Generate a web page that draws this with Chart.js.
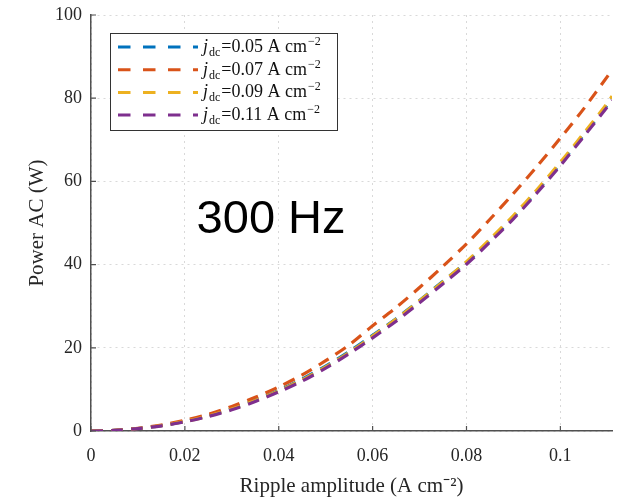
<!doctype html>
<html>
<head>
<meta charset="utf-8">
<title>power ac 300 Hz</title>
<script src="https://cdn.jsdelivr.net/npm/chart.js@4.4.1/dist/chart.umd.min.js"></script>
<style>
html, body { margin: 0; padding: 0; background: #fff; }
#wrap { width: 623px; height: 499px; }
</style>
</head>
<body>
<div id="wrap"><canvas id="chart" width="623" height="499"></canvas></div>
<script>
// ripple amplitude (A cm^-2)
var ripple = [0, 0.005, 0.01, 0.015, 0.02, 0.025, 0.03, 0.035, 0.04, 0.045, 0.05, 0.055,
              0.06, 0.065, 0.07, 0.075, 0.08, 0.085, 0.09, 0.095, 0.1, 0.105, 0.11, 0.111];

// power AC (W), one array per j_dc
var p005 = [0, 0.15, 0.6, 1.3, 2.3, 3.7, 5.4, 7.4, 9.8, 12.5, 15.6, 19.1,
            23.0, 27.0, 31.4, 36.0, 40.5, 45.8, 51.4, 57.6, 64.2, 71.2, 78.3, 80.0];
var p007 = [0, 0.16, 0.65, 1.45, 2.6, 4.0, 5.9, 8.1, 10.6, 13.5, 16.9, 20.7,
            25.3, 29.7, 34.5, 39.6, 45.0, 50.9, 57.1, 63.6, 70.4, 77.5, 85.2, 86.8];
var p009 = [0, 0.15, 0.6, 1.3, 2.3, 3.6, 5.3, 7.3, 9.6, 12.3, 15.4, 18.9,
            22.8, 26.9, 31.3, 35.9, 40.7, 46.1, 51.8, 58.0, 64.6, 71.6, 78.8, 80.5];
var p011 = [0, 0.14, 0.58, 1.25, 2.2, 3.5, 5.1, 7.1, 9.4, 12.0, 15.1, 18.6,
            22.4, 26.4, 30.8, 35.4, 40.1, 45.4, 51.0, 57.2, 63.8, 70.8, 77.9, 79.5];

var xTickLabels = ['0', '0.02', '0.04', '0.06', '0.08', '0.1'];
var jdcLabels = ['0.05', '0.07', '0.09', '0.11'];
var colors = ['#0072BD', '#D95319', '#EDB120', '#7E2F8E'];
var series = [p005, p007, p009, p011];

var annot = { x: 0.0225, y: 47.5, text: '300 Hz' };

var serif = '"Liberation Serif", "Times New Roman", serif';

function toPoints(ys) {
    return ripple.map(function (x, i) { return { x: x, y: ys[i] }; });
}

var datasets = series.map(function (ys, i) {
    return {
        label: jdcLabels[i],
        data: toPoints(ys),
        borderColor: colors[i],
        borderWidth: 3.2,
        borderDash: [12, 8],
        pointRadius: 0,
        tension: 0.3,
        fill: false,
        order: 3 - i
    };
});

// inward tick marks, like the matlab axes
var innerTicks = {
    id: 'innerTicks',
    afterDatasetsDraw: function (chart) {
        var ctx = chart.ctx, a = chart.chartArea;
        var xs = chart.scales.x, ys = chart.scales.y;
        ctx.save();
        ctx.strokeStyle = '#505050';
        ctx.lineWidth = 1.2;
        ctx.beginPath();
        xs.ticks.forEach(function (t) {
            var px = xs.getPixelForValue(t.value);
            ctx.moveTo(px, a.bottom);
            ctx.lineTo(px, a.bottom - 5);
        });
        ys.ticks.forEach(function (t) {
            var py = ys.getPixelForValue(t.value);
            ctx.moveTo(a.left, py);
            ctx.lineTo(a.left + 5, py);
        });
        ctx.stroke();
        ctx.restore();
    }
};

// legend with subscript / superscript
var texLegend = {
    id: 'texLegend',
    afterDraw: function (chart) {
        var ctx = chart.ctx, a = chart.chartArea;
        var bx = a.left + 19, by = a.top + 18, bw = 227, bh = 97;
        ctx.save();
        ctx.fillStyle = '#fff';
        ctx.fillRect(bx, by, bw, bh);
        ctx.strokeStyle = '#333';
        ctx.lineWidth = 1;
        ctx.strokeRect(bx + 0.5, by + 0.5, bw, bh);

        jdcLabels.forEach(function (lab, i) {
            var cy = by + 14 + i * 22.7;
            ctx.strokeStyle = colors[i];
            ctx.lineWidth = 3;
            ctx.setLineDash([12.5, 12.5]);
            ctx.beginPath();
            ctx.moveTo(bx + 8, cy);
            ctx.lineTo(bx + 88, cy);
            ctx.stroke();
            ctx.setLineDash([]);

            var x = bx + 93, base = cy + 5;
            ctx.fillStyle = '#111';
            ctx.textBaseline = 'alphabetic';
            ctx.textAlign = 'left';
            ctx.font = 'italic 18px ' + serif;
            ctx.fillText('j', x, base);
            x += ctx.measureText('j').width + 1;
            ctx.font = '12px ' + serif;
            ctx.fillText('dc', x, base + 4);
            x += ctx.measureText('dc').width + 1;
            ctx.font = '18px ' + serif;
            var main = '=' + lab + ' A cm';
            ctx.fillText(main, x, base);
            x += ctx.measureText(main).width + 1;
            ctx.font = '12px ' + serif;
            ctx.fillText('\u22122', x, base - 7);
        });

        // frequency annotation
        var xs = chart.scales.x, ys = chart.scales.y;
        ctx.font = '47px "Liberation Sans", Arial, sans-serif';
        ctx.fillStyle = '#000';
        ctx.fillText(annot.text, xs.getPixelForValue(annot.x), ys.getPixelForValue(annot.y));
        ctx.restore();
    }
};

new Chart(document.getElementById('chart'), {
    type: 'line',
    data: { datasets: datasets },
    options: {
        responsive: false,
        animation: false,
        layout: { padding: { top: 15, right: 11, left: 0, bottom: 0 } },
        plugins: { legend: { display: false }, tooltip: { enabled: false } },
        scales: {
            x: {
                type: 'linear',
                min: 0,
                max: 0.111,
                afterFit: function (s) { s.height = 68; },
                ticks: {
                    stepSize: 0.02,
                    includeBounds: false,
                    maxRotation: 0,
                    padding: 14,
                    color: '#262626',
                    font: { family: serif, size: 18 },
                    callback: function (v, i) { return xTickLabels[i]; }
                },
                grid: { color: '#d9d9d9', lineWidth: 1, drawTicks: false },
                border: { display: true, color: '#505050', width: 1.5, dash: [2, 4] },
                title: {
                    display: true,
                    text: 'Ripple amplitude (A cm\u207B\u00B2)',
                    color: '#262626',
                    font: { family: serif, size: 21 },
                    padding: { top: 0, bottom: 0 }
                }
            },
            y: {
                min: 0,
                max: 100,
                afterFit: function (s) { s.width = 91; s.paddingTop = 0; s.paddingBottom = 0; },
                ticks: {
                    stepSize: 20,
                    padding: 9,
                    color: '#262626',
                    font: { family: serif, size: 18 }
                },
                grid: { color: '#d9d9d9', lineWidth: 1, drawTicks: false },
                border: { display: true, color: '#505050', width: 1.5, dash: [2, 4] },
                title: {
                    display: true,
                    text: 'Power AC (W)',
                    color: '#262626',
                    font: { family: serif, size: 21 },
                    padding: { top: 25, bottom: 0 }
                }
            }
        }
    },
    plugins: [innerTicks, texLegend]
});
</script>
</body>
</html>
